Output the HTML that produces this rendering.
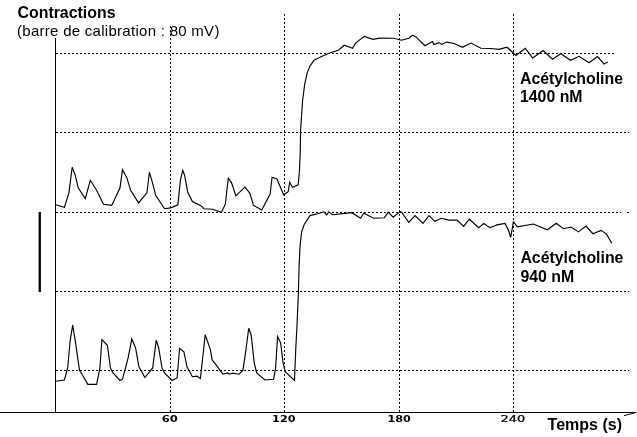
<!DOCTYPE html>
<html><head><meta charset="utf-8"><title>Contractions</title>
<style>
html,body{margin:0;padding:0;background:#fff;}
body{width:637px;height:437px;overflow:hidden;position:relative;font-family:"Liberation Sans",sans-serif;}
svg{position:absolute;left:0;top:0;display:block}
.g{stroke:#000;stroke-width:1;stroke-dasharray:2 2;fill:none;shape-rendering:crispEdges}
.ax{stroke:#000;stroke-width:1;fill:none;shape-rendering:crispEdges}
.tr{stroke:#000;stroke-width:1.15;fill:none;stroke-linejoin:miter;stroke-linecap:butt}
text{font-family:"Liberation Sans",sans-serif;fill:#000}
.b{font-weight:bold;font-size:16px}
.n{font-size:15px;letter-spacing:0.28px}
.l{font-size:15.85px}
.tk{font-family:"DejaVu Sans","Liberation Sans",sans-serif;font-weight:bold;font-size:8.6px;text-anchor:middle}
</style></head><body>
<svg width="637" height="437" viewBox="0 0 637 437">
<rect width="637" height="437" fill="#fff"/>
<!-- vertical grid -->
<path class="g" d="M170.5 412V14M284.5 412V14M399.5 412V14M513.5 412V14"/>
<!-- horizontal grid -->
<path class="g" d="M56 53.5H614M56 132.5H629M56 212.5H621M627 212.5H629M56 291.5H629M56 370.5H629"/>
<!-- title background -->
<rect x="16" y="2" width="206" height="22" fill="#fff"/>
<!-- axes -->
<path class="ax" d="M55.5 38V412M0 412.5H636"/>
<path d="M624 415.6L635 412.8" stroke="#000" stroke-width="1" fill="none"/>
<!-- calibration bar -->
<rect x="38.6" y="212" width="2.3" height="80" fill="#000"/>
<!-- traces -->
<polyline class="tr" points="55.6,204.7 64.4,207.2 68.9,192.8 72.2,167.2 75.2,175.2 78.2,187.8 85.3,198.6 90.3,180.3 96.6,190.3 103.4,204.2 111.7,205.4 120,187.8 122.5,169.7 126.8,177.7 130.6,190.3 138.6,202.9 146.9,192.8 149.4,172.2 152.5,182.8 155.7,195.3 164.5,208.7 170.8,207.9 177.9,204.9 180.4,180.3 182.7,170.2 184.6,175.2 187.7,192 192.4,201.6 201.4,205.9 203.9,208.7 212.2,209.2 221.5,212.2 225.3,204.2 228.3,178.2 231.6,182.8 235.8,195.8 244.9,187 249.9,193.3 253.5,205.4 261.8,209.9 270.1,194.1 272.1,177.2 276.9,179 283.6,194.8 288.2,191.6 289.7,182.3 292.5,187.3 298.2,184.8 299.5,170.2 300.3,150 300.6,130 302.6,100.5 304.7,84.2 307.2,72.8 310,66 314,60.3 321.5,56.5 330.3,52.7 338.4,50.2 344.2,45.2 352.5,48.4 355.5,43.1 364.3,36.4 373.1,39.4 379.4,38.1 393.8,38.2 401.4,40.2 408.9,38.2 412.2,35.2 415.7,36.7 425,45.7 432.5,41.5 434,44.6 439,42.6 441.8,44.4 446.5,42.1 454.1,43.5 462.5,47.3 471,43.1 480.9,48.2 490.6,48.5 499,49.3 507,47.2 516,55.4 525.3,48.3 532.7,58 543.2,50.5 552.5,59.2 560.8,53.7 570.6,60.3 579,56.3 589,62.8 597.5,56.6 604,64 607.8,62"/>
<polyline class="tr" points="55.6,381.3 64.4,380 67.7,367.9 70.2,340.3 72.7,325.2 75.2,340.3 79.5,370.4 82.8,375.5 87.8,384.3 96.6,384.3 99.9,367.9 101.9,339.5 107.4,345.3 110.4,367.9 113,373 120,380.5 122.5,379.2 128.1,357.9 131.8,339 135.6,347.8 138.9,366.7 144.9,377.5 152.7,367.9 156.2,340.3 158.7,347.8 162,367.9 164.5,373 172.1,380.5 177.1,378 179.6,348.3 183.9,351.8 187,366.7 192.4,376.7 197,376.2 200.4,378.5 205.2,334.7 210.2,349.1 212.2,359.9 216.5,365.4 222.8,374.2 227.8,373 229,374.2 232.8,373.2 239.1,374.2 242.9,370.4 245.9,350.3 248.7,328.2 251.2,335.2 254.2,362.9 256.7,373 265,380 273.6,379.2 275.6,367.9 277.6,336.5 280.6,342.8 283.1,362.9 285.2,371.7 294.5,380.5 295.7,350.3 297,325.2 298.3,295 299.1,265.5 300.1,245.4 301.7,231.7 304.2,224.5 310,215.6 317.4,213.8 324,211.8 326.6,215.1 328.8,211.8 332.6,214.7 340.2,213.9 351.7,212.7 360.5,218.2 363.8,213.2 373.6,218.2 384.4,217.7 388.2,212.2 393.2,217.2 400.3,211.4 401.9,212.6 408.8,222.4 415,215.5 423,223.4 429,215.5 434.8,221.3 441.4,218.3 449,220.1 457.1,220.1 463.7,226.4 469.3,219.2 478.7,227.7 483.8,223.5 489.9,227.7 497,224.9 505,223.5 508.5,230.3 510.7,237.4 513.4,221.8 517.5,226.9 533.3,224 547.3,229.8 556.3,223.3 563.4,228.7 571,227 578.5,231.9 586,226.1 592.9,233.7 601.1,230.4 606.5,234.1 611.8,243.3"/>
<!-- labels -->
<text class="b" x="17.5" y="17.7" style="font-size:15.9px">Contractions</text>
<text class="n" x="17" y="35.5">(barre de calibration : 80 mV)</text>
<text class="b l" x="520" y="83.5">Acétylcholine</text>
<text class="b l" x="520" y="102.2">1400 nM</text>
<text class="b l" x="520.4" y="262.6">Acétylcholine</text>
<text class="b l" x="520.4" y="281.8">940 nM</text>
<text class="tk" transform="translate(169.8,422.2) scale(1.35,1)">60</text>
<text class="tk" transform="translate(283.8,422.2) scale(1.31,1)">120</text>
<text class="tk" transform="translate(399.2,422.2) scale(1.30,1)">180</text>
<text class="tk" transform="translate(512.9,422.2) scale(1.5,1)" style="font-weight:normal;stroke:#000;stroke-width:0.25">240</text>
<text class="b" x="547.6" y="429.7">Temps (s)</text>
</svg>
</body></html>
